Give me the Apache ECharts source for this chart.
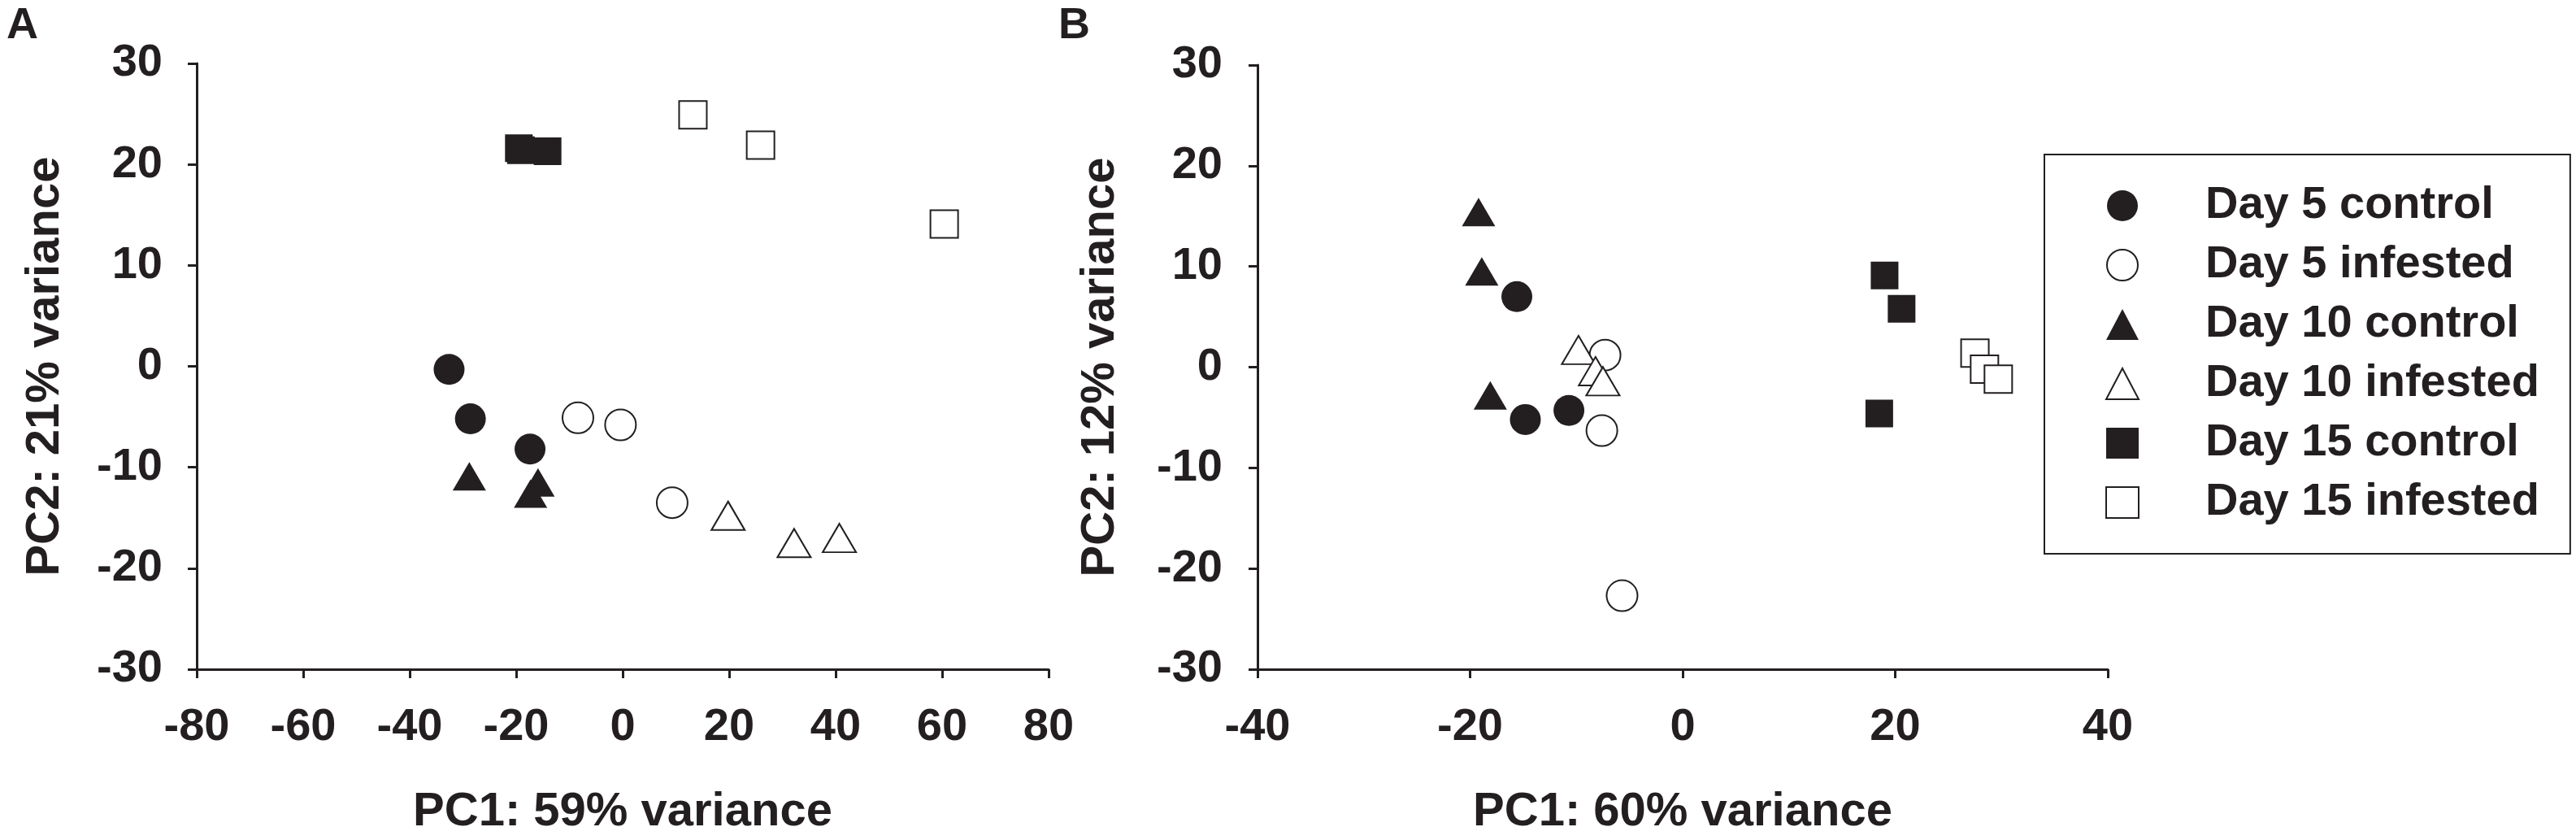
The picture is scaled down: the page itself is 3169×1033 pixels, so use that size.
<!DOCTYPE html>
<html>
<head>
<meta charset="utf-8">
<script src="https://cdn.jsdelivr.net/npm/echarts@6/dist/echarts.min.js"></script>
<style>
    html, body { margin: 0; padding: 0; background: #fff; }
    #main { width: 3169px; height: 1033px; }
</style>
</head>
<body>
<div id="main"></div>
<script>
// group names (legend order)
var groups = ['Day 5 control', 'Day 5 infested', 'Day 10 control', 'Day 10 infested', 'Day 15 control', 'Day 15 infested'];

// panel A: [PC1, PC2]
var aDay5Control   = [[-32.6, -0.3], [-28.6, -5.2], [-17.4, -8.2]];
var aDay5Infested  = [[-8.4, -5.1], [-0.4, -5.8], [9.3, -13.5]];
var aDay10Control  = [[-28.8, -10.9], [-15.9, -11.5], [-17.3, -12.6]];
var aDay10Infested = [[19.8, -14.8], [32.2, -17.5], [40.7, -17.0]];
var aDay15Control  = [[-19.5, 21.6], [-19.1, 21.4], [-14.1, 21.3]];
var aDay15Infested = [[13.2, 24.9], [25.9, 21.9], [60.4, 14.1]];

// panel B: [PC1, PC2]
var bDay5Control   = [[-15.6, 7.0], [-14.8, -5.2], [-10.7, -4.3]];
var bDay5Infested  = [[-7.3, 1.2], [-7.6, -6.3], [-5.7, -22.7]];
var bDay10Control  = [[-19.2, 15.4], [-18.9, 9.5], [-18.1, -2.8]];
var bDay10Infested = [[-9.8, 1.7], [-8.2, -0.4], [-7.5, -1.4]];
var bDay15Control  = [[19.0, 9.1], [20.6, 5.8], [18.5, -4.6]];
var bDay15Infested = [[27.5, 1.4], [28.4, -0.2], [29.7, -1.2]];

var xTicksA = [-80, 80, 20];   // min, max, step
var xTicksB = [-40, 40, 20];
var yTicks  = [-30, 30, 10];

var ink = '#231f20';
var font = 'Liberation Sans, Arial, sans-serif';

// marker look per group
var looks = [
    { symbol: 'circle',   size: 38,       fill: ink },
    { symbol: 'circle',   size: 38,       fill: '#fff' },
    { symbol: 'triangle', size: [41, 35], fill: ink },
    { symbol: 'triangle', size: [41, 35], fill: '#fff' },
    { symbol: 'rect',     size: 34,       fill: ink },
    { symbol: 'rect',     size: 34,       fill: '#fff' }
];

function mkSeries(name, data, idx, look) {
    return {
        name: name,
        type: 'scatter',
        xAxisIndex: idx,
        yAxisIndex: idx,
        data: data,
        symbol: look.symbol,
        symbolSize: look.size,
        itemStyle: { color: look.fill, borderColor: ink, borderWidth: look.fill === ink ? 0 : 2, opacity: 1 },
        emphasis: { disabled: true },
        z: 3
    };
}

function mkX(idx, t, name, gap) {
    return {
        type: 'value', gridIndex: idx, min: t[0], max: t[1], interval: t[2],
        name: name, nameLocation: 'middle', nameGap: gap,
        nameTextStyle: { fontSize: 58, fontWeight: 'bold', fontFamily: font, color: ink },
        axisLine: { onZero: false, lineStyle: { color: ink, width: 3 } },
        axisTick: { show: true, length: 11, lineStyle: { color: ink, width: 3 } },
        axisLabel: { margin: 44, fontSize: 56, fontWeight: 'bold', fontFamily: font, color: ink },
        splitLine: { show: false }
    };
}

function mkY(idx, t, name, gap, margin) {
    return {
        type: 'value', gridIndex: idx, min: t[0], max: t[1], interval: t[2],
        name: name, nameLocation: 'middle', nameGap: gap,
        nameTextStyle: { fontSize: 58, fontWeight: 'bold', fontFamily: font, color: ink },
        axisLine: { show: true, onZero: false, lineStyle: { color: ink, width: 3 } },
        axisTick: { show: true, length: 11, lineStyle: { color: ink, width: 3 } },
        axisLabel: { margin: margin, fontSize: 56, fontWeight: 'bold', fontFamily: font, color: ink },
        splitLine: { show: false }
    };
}

var dataA = [aDay5Control, aDay5Infested, aDay10Control, aDay10Infested, aDay15Control, aDay15Infested];
var dataB = [bDay5Control, bDay5Infested, bDay10Control, bDay10Infested, bDay15Control, bDay15Infested];

var series = [];
groups.forEach(function (g, i) { series.push(mkSeries(g, dataA[i], 0, looks[i])); });
groups.forEach(function (g, i) { series.push(mkSeries(g, dataB[i], 1, looks[i])); });

var myChart = echarts.init(document.getElementById('main'), null, { renderer: 'canvas' });
var option = {
    backgroundColor: '#fff',
    animation: false,
    title: [
        { text: 'A', left: 8, top: 5, padding: 0, textStyle: { fontSize: 54, fontWeight: 'bold', fontFamily: font, color: ink } },
        { text: 'B', left: 1302, top: 5, padding: 0, textStyle: { fontSize: 54, fontWeight: 'bold', fontFamily: font, color: ink } }
    ],
    grid: [
        { left: 242, top: 78, width: 1048, height: 749 },
        { left: 1547, top: 80, width: 1046, height: 749 }
    ],
    xAxis: [
        mkX(0, xTicksA, 'PC1: 59% variance', 147),
        mkX(1, xTicksB, 'PC1: 60% variance', 147)
    ],
    yAxis: [
        mkY(0, yTicks, 'PC2: 21% variance', 157, 42),
        mkY(1, yTicks, 'PC2: 12% variance', 164, 43)
    ],
    legend: {
        orient: 'vertical',
        left: 2515,
        top: 190,
        padding: [35, 38, 35, 75],
        borderColor: ink,
        borderWidth: 2,
        itemWidth: 40,
        itemHeight: 38,
        itemGap: 17,
        data: groups,
        selectedMode: false,
        textStyle: { fontSize: 56, fontWeight: 'bold', fontFamily: font, color: ink, lineHeight: 56, padding: [0, 0, 0, 77] }
    },
    series: series
};
myChart.setOption(option);
</script>
</body>
</html>
